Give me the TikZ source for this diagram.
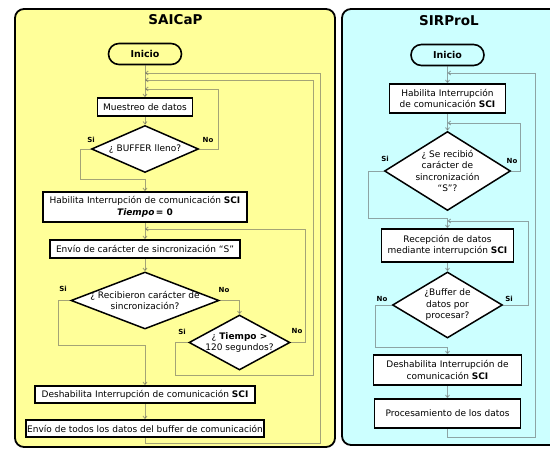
\documentclass[tikz,border=0pt]{standalone}
\usepackage{fontspec}
\setmainfont{DejaVu Sans}
\usetikzlibrary{shapes.geometric,arrows.meta}
\definecolor{panelY}{RGB}{255,255,153}
\definecolor{panelC}{RGB}{204,255,255}
\definecolor{wirec}{RGB}{90,90,90}
\begin{document}
\begin{tikzpicture}[x=1pt,y=-1pt,
 panel/.style={draw=black, line width=1.8pt, rounded corners=9pt},
 stadium/.style={draw, line width=1.6pt, rounded corners=10.5pt, minimum width=73pt, minimum height=21pt, inner sep=0pt, font=\fontsize{9.5}{11}\selectfont\bfseries},
 box/.style={draw, line width=1.6pt, fill=white, inner sep=0pt, font=\fontsize{9}{11.5}\selectfont, align=center},
 dia/.style={draw, line width=1.5pt, fill=white, diamond, inner sep=0pt},
 dtext/.style={font=\fontsize{9}{11.5}\selectfont, align=center, inner sep=0pt},
 yn/.style={font=\fontsize{7}{8}\selectfont\bfseries, inner sep=0pt},
 wire/.style={draw=wirec, draw opacity=0.55, line width=0.9pt, -{Straight Barb[length=2.5pt,width=4pt]}},
 ttl/.style={font=\fontsize{13.5}{15}\selectfont\bfseries, inner sep=0pt}
]
\useasboundingbox (0,0) rectangle (550,449);
% panels
\draw[panel, fill=panelY] (15,9) rectangle (335,447);
\draw[panel, fill=panelC] (342,9) rectangle (570,445);
\node[ttl] (tL) at (175.5,20) {SAICaP};
\node[ttl] (tR) at (449,21) {SIRProL};

% left flow
\node[stadium, fill=panelY] (iniL) at (145,54) {Inicio};
\node[box, minimum width=95pt, minimum height=18pt] (mue) at (145,107) {Muestreo de datos};
\node[dia, minimum width=107pt, minimum height=47pt, label={[dtext]center:¿ BUFFER lleno?}] (buf) at (145,149) {};
\node[box, minimum width=204pt, minimum height=30pt] (hab) at (145,207) {Habilita Interrupción de comunicación \textbf{SCI}\\\textbf{\textit{Tiempo}\,= 0}};
\node[box, minimum width=190pt, minimum height=18pt] (env) at (145,249) {Envío de carácter de sincronización “S”};
\node[dia, minimum width=148pt, minimum height=57pt, label={[dtext]center:¿ Recibieron carácter de\\sincronización?}] (rec) at (145,300.5) {};
\node[dia, minimum width=101pt, minimum height=55pt, label={[dtext]center:¿ \textbf{Tiempo >}\\120 segundos?}] (tie) at (239.5,342.5) {};
\node[box, minimum width=220pt, minimum height=17pt] (des) at (145,394.5) {Deshabilita Interrupción de comunicación \textbf{SCI}};
\node[box, minimum width=238pt, minimum height=17pt] (tod) at (145,428.5) {Envío de todos los datos del buffer de comunicación};

\node[yn] (s1) at (91,140) {Si};
\node[yn] (n1) at (208,140) {No};
\node[yn] (s2) at (63,289) {Si};
\node[yn] (n2) at (224,290) {No};
\node[yn] (s3) at (182,332) {Si};
\node[yn] (n3) at (297,331) {No};

\coordinate (jA) at (145,89);
\coordinate (jB) at (145,229);
\coordinate (jC) at (145,80);
\coordinate (jD) at (145,73);

\draw[wire] (iniL) -- (mue);
\draw[wire] (mue) -- (buf);
\draw[wire] (buf.west) -| (80,179) -| (hab.north);
\draw[wire] (buf.east) -| (218,89) -- (jA);
\draw[wire] (hab) -- (env);
\draw[wire] (env) -- (rec);
\draw[wire] (rec.west) -| (58,345) -| (des.north);
\draw[wire] (rec.east) -| (tie.north);
\draw[wire] (tie.east) -| (305,229) -- (jB);
\draw[wire] (tie.west) -| (175,375) -| (313,80) -- (jC);
\draw[wire] (des) -- (tod);
\draw[wire] (tod.south) -- (145,443) -| (320,73) -- (jD);

% right flow
\node[stadium, fill=panelC] (iniR) at (447.5,55) {Inicio};
\node[box, minimum width=116pt, minimum height=29pt] (habR) at (447.5,98.5) {Habilita Interrupción\\de comunicación \textbf{SCI}};
\node[dia, minimum width=126pt, minimum height=79pt, label={[dtext]center:¿ Se recibió\\carácter de\\sincronización\\“S”?}] (seR) at (447.5,171) {};
\node[box, minimum width=132pt, minimum height=33pt] (recR) at (447.5,245.5) {Recepción de datos\\mediante interrupción \textbf{SCI}};
\node[dia, minimum width=110pt, minimum height=66pt, label={[dtext]center:¿Buffer de\\datos por\\procesar?}] (bufR) at (447.5,305) {};
\node[box, minimum width=148pt, minimum height=30pt] (desR) at (447.5,370) {Deshabilita Interrupción de\\comunicación \textbf{SCI}};
\node[box, minimum width=146pt, minimum height=29pt] (proR) at (447.5,413.5) {Procesamiento de los datos};

\node[yn] (s4) at (385,159) {Si};
\node[yn] (n4) at (512,161) {No};
\node[yn] (n5) at (382,299) {No};
\node[yn] (s5) at (509,299) {Si};

\coordinate (jE) at (447.5,123);
\coordinate (jF) at (447.5,221);
\coordinate (jG) at (447.5,73);

\draw[wire] (iniR) -- (habR);
\draw[wire] (habR) -- (seR);
\draw[wire] (seR.east) -| (520,123) -- (jE);
\draw[wire] (seR.west) -| (368,218) -| (recR.north);
\draw[wire] (recR) -- (bufR);
\draw[wire] (bufR.east) -| (528,221) -- (jF);
\draw[wire] (bufR.west) -| (375,347) -| (desR.north);
\draw[wire] (desR) -- (proR);
\draw[wire] (proR.south) -- (447.5,437) -| (535,73) -- (jG);
\end{tikzpicture}
\end{document}
